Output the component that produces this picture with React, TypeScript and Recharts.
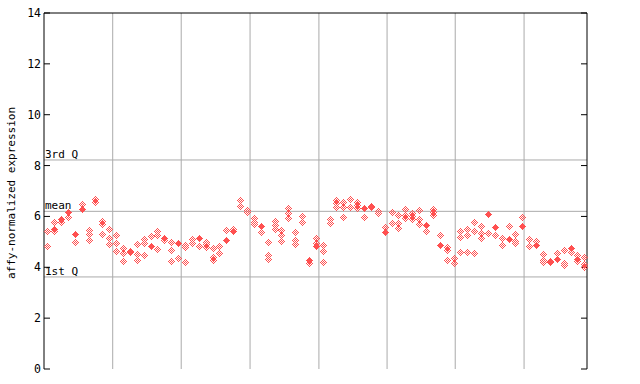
import React from "react";
import {
  ReferenceLine,
  Scatter,
  ScatterChart,
  XAxis,
  YAxis,
} from "recharts";

// values per sample column (left to right)
const hollowValues: number[][] = [
  [5.41, 4.84], [5.78, 5.42], [5.8], [5.97], [4.99], [6.47], [5.47, 5.32, 5.06], [6.68, 6.58],
  [5.83, 5.72, 5.31], [5.49, 5.14, 4.93], [5.27, 4.95, 4.64], [4.76, 4.58, 4.25], [4.6],
  [4.92, 4.52, 4.27], [5.1, 4.94, 4.47], [5.23], [5.41, 5.27, 4.73], [5.06], [4.98, 4.67, 4.25],
  [4.35], [4.88, 4.78, 4.21], [5.1, 4.94], [4.84], [5.01, 4.92, 4.81], [4.76, 4.42, 4.27],
  [4.84, 4.56], [5.47], [5.52], [6.65, 6.41], [6.24, 6.17], [5.93, 5.79, 5.69], [5.38],
  [4.99, 4.47, 4.32], [5.83, 5.66, 5.49], [5.45, 5.27, 5.03], [6.32, 6.12, 5.93],
  [5.38, 5.06, 4.9], [6.03, 5.77], [4.16], [5.14, 4.95], [4.86, 4.64, 4.19], [5.89, 5.73],
  [6.65, 6.52, 6.38], [6.58, 6.36, 5.97], [6.67, 6.38], [6.58, 6.45, 6.32], [5.96], [],
  [6.2, 6.14], [5.6], [6.19, 5.73], [6.06, 5.73, 5.53], [6.28, 6.06, 5.93], [6.12, 6.02, 5.91],
  [6.25, 5.89, 5.69], [5.41], [6.29, 6.18, 6.06], [5.27], [4.78, 4.68, 4.27], [4.37, 4.16],
  [5.43, 5.21, 4.6], [5.5, 5.27, 4.6], [5.77, 5.42, 4.56], [5.61, 5.33, 5.14], [5.33], [5.26],
  [5.17, 4.87], [5.61], [5.3, 5.03, 4.94], [5.96], [5.11, 4.85], [5.03], [4.51, 4.29, 4.19],
  [4.23], [4.55], [4.68, 4.16, 4.09], [4.61], [4.48, 4.26], [4.39, 4.13, 4.02],
];

const solidValues: number[][] = [
  [], [5.5], [5.91], [6.17], [5.29], [6.3], [], [], [], [], [], [], [4.65], [], [], [4.85], [],
  [5.16], [], [4.97], [], [], [5.16], [], [], [], [5.08], [5.43], [], [], [], [5.62], [], [], [],
  [], [], [], [4.29], [4.84], [], [], [], [], [], [], [6.34], [6.41, 6.36], [], [5.4], [], [], [],
  [], [], [5.67], [], [4.89], [], [], [], [], [], [], [6.08], [5.6], [], [5.13], [], [5.64], [],
  [4.88], [], [4.19], [4.34], [], [4.76], [4.34], [],
];

const yTicks = [0, 2, 4, 6, 8, 10, 12, 14];
const xDomain = [-0.48, 78.39];
const groupBreaks = [9.5, 19.45, 29.45, 39.45, 49.35, 59.25, 69.25];
const quartiles = [
  { label: "3rd Q", value: 8.22 },
  { label: "mean", value: 6.2 },
  { label: "1st Q", value: 3.62 },
];

const RED = "#ff5050";
const FONT = "'DejaVu Sans Mono', monospace";
const rightTickLen = 0.87; // in x units, about 6px

const hollowPts = hollowValues.flatMap((vals, i) => vals.map((v) => ({ x: i, y: v })));
const solidPts = solidValues.flatMap((vals, i) => vals.map((v) => ({ x: i, y: v })));

const Diamond = ({ cx, cy, solid }: any) => {
  const x0 = Math.round(cx);
  const y0 = Math.round(cy);
  const px: React.ReactNode[] = [];
  for (let dy = -3; dy <= 3; dy++) {
    for (let dx = -3; dx <= 3; dx++) {
      if (Math.abs(dx) + Math.abs(dy) > 3) continue;
      if (!solid && (dx + dy) % 2 === 0) continue;
      px.push(<rect key={dx + "_" + dy} x={x0 + dx} y={y0 + dy} width={1} height={1} fill={RED} />);
    }
  }
  return <g shapeRendering="crispEdges">{px}</g>;
};

const LeftTick = ({ x, y, payload }: any) => (
  <g>
    <line x1={x} x2={x + 6} y1={y} y2={y} stroke="#000" />
    <text x={x - 3} y={y + 4} textAnchor="end" fontFamily={FONT} fontSize={11.5} fill="#000">
      {payload.value}
    </text>
  </g>
);

const App = () => {
  return (
    <div style={{ position: "absolute", left: 0, top: 0, background: "#fff" }}>
      <ScatterChart width={640} height={384} margin={{ top: 13, right: 53, bottom: 15, left: 4 }}>
        <XAxis
          xAxisId="b"
          type="number"
          dataKey="x"
          domain={xDomain}
          height={0}
          tick={false}
          tickLine={false}
          axisLine={{ stroke: "#000" }}
        />
        <YAxis
          yAxisId="l"
          type="number"
          dataKey="y"
          domain={[0, 14]}
          ticks={yTicks}
          width={40}
          tickSize={0}
          tickMargin={0}
          tickLine={false}
          tick={<LeftTick />}
          axisLine={{ stroke: "#000" }}
          label={() => (
            <text
              x={15}
              y={193}
              transform="rotate(-90, 15, 193)"
              textAnchor="middle"
              fontFamily={FONT}
              fontSize={11}
              fill="#000"
            >
              affy-normalized expression
            </text>
          )}
        />
        {groupBreaks.map((v) => (
          <ReferenceLine key={v} x={v} xAxisId="b" yAxisId="l" stroke="#aaaaaa" />
        ))}
        {quartiles.map((q) => (
          <ReferenceLine
            key={q.label}
            y={q.value}
            xAxisId="b"
            yAxisId="l"
            stroke="#aaaaaa"
            label={(p: any) => (
              <text
                x={p.viewBox.x + 1}
                y={p.viewBox.y - 2}
                fontFamily={FONT}
                fontSize={11}
                fill="#000"
              >
                {q.label}
              </text>
            )}
          />
        ))}
        <ReferenceLine y={14} xAxisId="b" yAxisId="l" stroke="#000" />
        <ReferenceLine x={xDomain[1]} xAxisId="b" yAxisId="l" stroke="#000" />
        {yTicks.map((t) => (
          <ReferenceLine
            key={"rt" + t}
            xAxisId="b"
            yAxisId="l"
            stroke="#000"
            segment={[
              { x: xDomain[1] - rightTickLen, y: t },
              { x: xDomain[1], y: t },
            ]}
          />
        ))}
        <Scatter
          data={hollowPts}
          xAxisId="b"
          yAxisId="l"
          isAnimationActive={false}
          shape={(p: any) => <Diamond cx={p.cx} cy={p.cy} solid={false} />}
        />
        <Scatter
          data={solidPts}
          xAxisId="b"
          yAxisId="l"
          isAnimationActive={false}
          shape={(p: any) => <Diamond cx={p.cx} cy={p.cy} solid={true} />}
        />
      </ScatterChart>
    </div>
  );
};

export default App;
